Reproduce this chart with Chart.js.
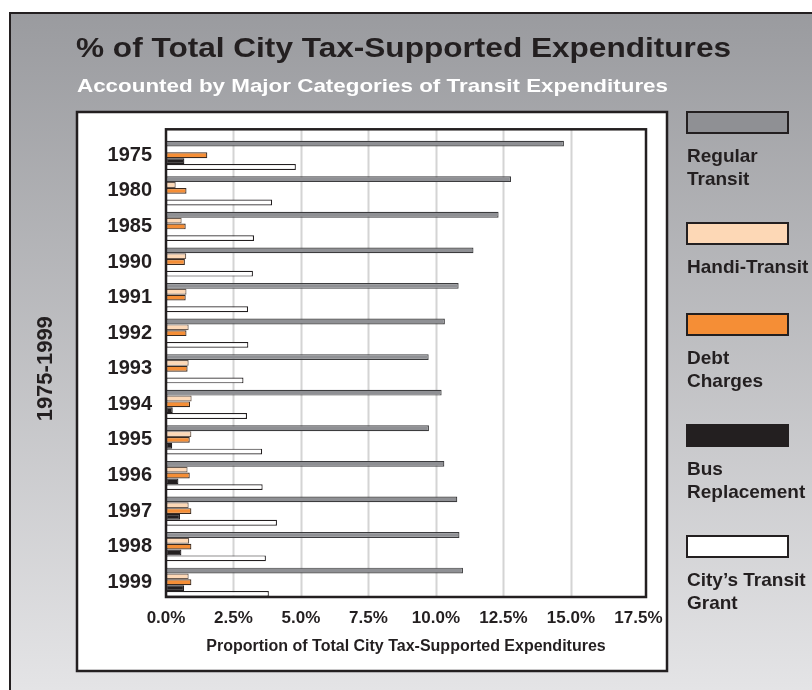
<!DOCTYPE html>
<html>
<head>
<meta charset="utf-8">
<script src="https://cdn.jsdelivr.net/npm/chart.js@4.4.1/dist/chart.umd.min.js"></script>
<style>
  html, body { margin: 0; padding: 0; background: #fff; }
  #wrap { width: 812px; height: 690px; }
</style>
</head>
<body>
<div id="wrap"><canvas id="chart" width="812" height="690"></canvas></div>
<script>
// --- data ---
const years = ['1975', '1980', '1985', '1990', '1991', '1992', '1993', '1994', '1995', '1996', '1997', '1998', '1999'];
const regularTransit = [14.74, 12.78, 12.32, 11.39, 10.84, 10.33, 9.73, 10.21, 9.74, 10.31, 10.79, 10.87, 11.00];
const handiTransit = [0, 0.36, 0.58, 0.75, 0.76, 0.84, 0.84, 0.95, 0.94, 0.80, 0.84, 0.86, 0.84];
const debtCharges = [1.53, 0.76, 0.73, 0.70, 0.73, 0.76, 0.80, 0.89, 0.88, 0.88, 0.94, 0.94, 0.94];
const busReplacement = [0.68, 0, 0, 0, 0, 0, 0, 0.25, 0.23, 0.46, 0.52, 0.57, 0.67];
const transitGrant = [4.81, 3.93, 3.26, 3.22, 3.04, 3.05, 2.87, 3.00, 3.56, 3.58, 4.11, 3.70, 3.81];

const seriesNames = ['Regular Transit', 'Handi-Transit', 'Debt Charges', 'Bus Replacement', 'City’s Transit Grant'];
const legendLines = [['Regular', 'Transit'], ['Handi-Transit'], ['Debt', 'Charges'], ['Bus', 'Replacement'], ['City’s Transit', 'Grant']];
const xTickStep = 2.5;
const xMax = 17.78;

const TITLE = '% of Total City Tax-Supported Expenditures';
const SUBTITLE = 'Accounted by Major Categories of Transit Expenditures';
const Y_TITLE = '1975-1999';
const X_TITLE = 'Proportion of Total City Tax-Supported Expenditures';

// --- styles ---
const FONT = '"Liberation Sans", Arial, Helvetica, sans-serif';
const INK = '#231f20';
const FILLS = ['#8f9094', '#fdd8b6', '#f58e36', '#231f20', '#ffffff'];
const EDGES = ['#3c3c3e', '#6b5b50', '#3a2a20', '#231f20', '#231f20'];

Chart.defaults.font.family = FONT;
Chart.defaults.color = INK;

function fitText(ctx, text, x, y, w, font, color) {
  ctx.save();
  ctx.font = font;
  ctx.fillStyle = color;
  ctx.textAlign = 'left';
  ctx.textBaseline = 'alphabetic';
  const sx = w / ctx.measureText(text).width;
  ctx.translate(x, y);
  ctx.scale(sx, 1);
  ctx.fillText(text, 0, 0);
  ctx.restore();
}

const framePlugin = {
  id: 'frame',
  beforeDraw(chart) {
    const { ctx, width, height } = chart;
    ctx.save();
    ctx.fillStyle = '#fff';
    ctx.fillRect(0, 0, width, height);
    const g = ctx.createLinearGradient(0, 13, 0, height);
    g.addColorStop(0, '#9a9b9f');
    g.addColorStop(1, '#e4e4e6');
    ctx.fillStyle = g;
    ctx.fillRect(10, 13, width, height);
    ctx.strokeStyle = INK;
    ctx.lineWidth = 2;
    ctx.strokeRect(10, 13, width + 20, height + 20);

    // white panel
    ctx.fillStyle = '#fff';
    ctx.fillRect(77, 112, 590, 559);
    ctx.lineWidth = 2.5;
    ctx.strokeRect(77, 112, 590, 559);
    ctx.restore();

    fitText(ctx, TITLE, 76, 57, 655, 'bold 28px ' + FONT, INK);
    fitText(ctx, SUBTITLE, 77, 92, 591, 'bold 19px ' + FONT, '#fff');
  },
  beforeDatasetsDraw(chart) {
    const { ctx } = chart;
    const xs = chart.scales.x;
    ctx.save();
    ctx.strokeStyle = '#d4d4d4';
    ctx.lineWidth = 2;
    xs.ticks.forEach(t => {
      if (t.value <= 0 || t.value >= xMax - 0.5) return;
      const px = Math.round(xs.getPixelForValue(t.value)) + 0.5;
      ctx.beginPath();
      ctx.moveTo(px, 129);
      ctx.lineTo(px, 597);
      ctx.stroke();
    });
    ctx.restore();
  },
  afterDatasetsDraw(chart) {
    const { ctx, chartArea } = chart;
    ctx.save();
    ctx.strokeStyle = INK;
    ctx.lineWidth = 2.5;
    ctx.strokeRect(chartArea.left, 129.3, chartArea.right - chartArea.left, 597 - 129.3);
    ctx.restore();
  },
  afterDraw(chart) {
    const { ctx } = chart;
    ctx.save();
    let y = 112;
    chart.data.datasets.forEach((ds, i) => {
      ctx.fillStyle = ds.backgroundColor;
      ctx.fillRect(687, y, 101, 21);
      ctx.strokeStyle = INK;
      ctx.lineWidth = 2;
      ctx.strokeRect(687, y, 101, 21);
      ctx.font = 'bold 19px ' + FONT;
      ctx.fillStyle = INK;
      ctx.textAlign = 'left';
      ctx.textBaseline = 'alphabetic';
      const lines = legendLines[i];
      lines.forEach((ln, j) => ctx.fillText(ln, 687, y + 50 + j * 23));
      y += 71 + lines.length * 20;
    });
    ctx.restore();
  }
};

const series = [regularTransit, handiTransit, debtCharges, busReplacement, transitGrant];

new Chart(document.getElementById('chart'), {
  type: 'bar',
  data: {
    labels: years,
    datasets: series.map((values, i) => ({
      label: seriesNames[i],
      data: values,
      backgroundColor: FILLS[i],
      borderColor: EDGES[i],
      borderWidth: 1.2,
      borderSkipped: false,
      categoryPercentage: 0.82,
      barPercentage: 1.0
    }))
  },
  options: {
    indexAxis: 'y',
    responsive: false,
    animation: false,
    layout: { padding: { left: 30, right: 166, top: 137.5, bottom: 30 } },
    plugins: {
      legend: { display: false },
      title: { display: false },
      tooltip: { enabled: false }
    },
    scales: {
      x: {
        type: 'linear',
        position: 'bottom',
        min: 0,
        max: xMax,
        grid: { display: false, drawTicks: false },
        border: { display: false },
        ticks: {
          stepSize: xTickStep,
          includeBounds: false,
          padding: 8,
          font: { size: 17, weight: 'bold' },
          callback: v => v.toFixed(1) + '%'
        },
        title: {
          display: true,
          text: X_TITLE,
          font: { size: 16, weight: 'bold' },
          padding: { top: 0, bottom: 4 }
        },
        afterFit(scale) { scale.height = 60; }
      },
      y: {
        type: 'category',
        position: 'left',
        grid: { display: false, drawTicks: false },
        border: { display: false },
        ticks: {
          padding: 14,
          font: { size: 20, weight: 'bold' }
        },
        title: {
          display: true,
          text: Y_TITLE,
          font: { size: 22, weight: 'bold' },
          padding: { top: 3, bottom: 0 }
        },
        afterFit(scale) { scale.width = 136; }
      }
    }
  },
  plugins: [framePlugin]
});
</script>
</body>
</html>
